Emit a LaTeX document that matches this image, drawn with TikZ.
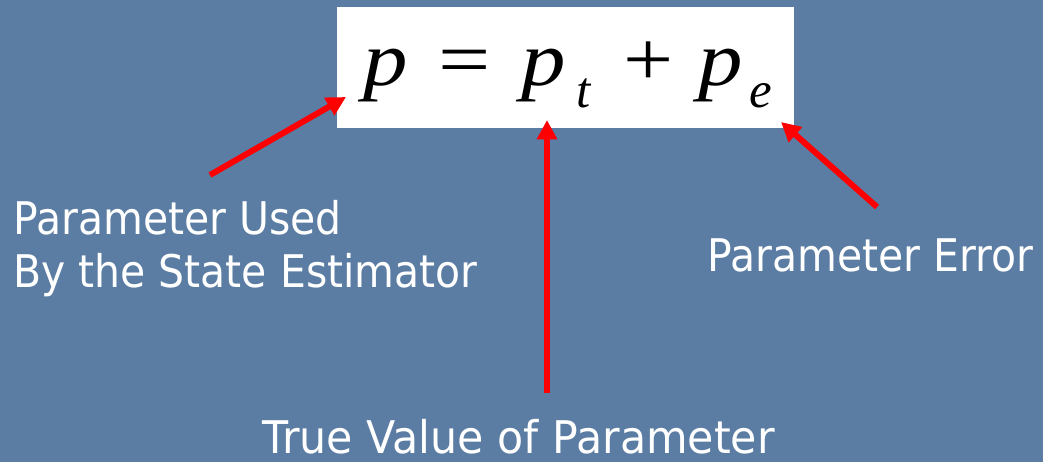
\documentclass[tikz,border=0pt]{standalone}
\usepackage{fontspec}
\usepackage{xcolor}
\usetikzlibrary{arrows.meta,positioning}
\newfontfamily\eqfont{Liberation Serif}
\newfontfamily\lblfont[FakeStretch=0.91]{DejaVu Sans}
\newfontfamily\lblwidefont[FakeStretch=0.95]{DejaVu Sans}
\definecolor{slideblue}{RGB}{91,125,163}
\definecolor{arrowred}{RGB}{255,0,0}
% one glyph of the equation in a box of given width
\newcommand{\eqglyph}[3][1.15]{\makebox[#2][l]{\scalebox{#1}[1]{#3}}}
\newcommand{\eqsub}[1]{\raisebox{-12pt}{\fontsize{29}{29}\selectfont\textit{#1}}}

\begin{document}
\begin{tikzpicture}[
  x=0.02cm, y=-0.02cm,
  eqbox/.style={fill=white, draw=none, inner sep=0pt},
  lbl/.style={text=white, inner sep=0pt, align=left, font=\lblfont\fontsize{25.6}{29.6}\selectfont},
  arr/.style={-{Triangle[length=11pt, width=11pt]}, line width=3.4pt, arrowred}
]
% slide background
\fill[slideblue] (0,0) rectangle (1043,462);

% equation
\node[eqbox, minimum width=457*0.02cm, minimum height=121*0.02cm, anchor=north west] (box) at (337,7) {};
\node[inner sep=0pt, anchor=base west] (eq) at (363,86) {\eqfont\fontsize{44}{44}\selectfont
  \eqglyph{43pt}{\textit{p}}\eqglyph[1.2]{47pt}{=}\eqglyph{31.3pt}{\textit{p}}\eqglyph[1]{27pt}{\eqsub{t}}\eqglyph[1.15]{42.5pt}{+}\eqglyph{29pt}{\textit{p}}\eqsub{e}};

% labels
\node[lbl, anchor=base west] (used) at (13,287) {Parameter Used\\By the State Estimator};
\node[lbl, anchor=base west] (err) at (707,272) {Parameter Error};
\node[lbl, anchor=base west, font=\lblwidefont\fontsize{25.6}{29.6}\selectfont] (true) at (262,453) {True Value of Parameter};

% arrow ends
\coordinate (usedtail) at (210,175);
\coordinate (usedtip) at (346,97);
\coordinate (truetail) at (547,393);
\coordinate (truetip) at (547,120);
\coordinate (errtail) at (877,207);
\coordinate (errtip) at (781,122);

\draw[arr] (usedtail) -- (usedtip);
\draw[arr] (truetail) -- (truetip);
\draw[arr] (errtail) -- (errtip);
\end{tikzpicture}
\end{document}
